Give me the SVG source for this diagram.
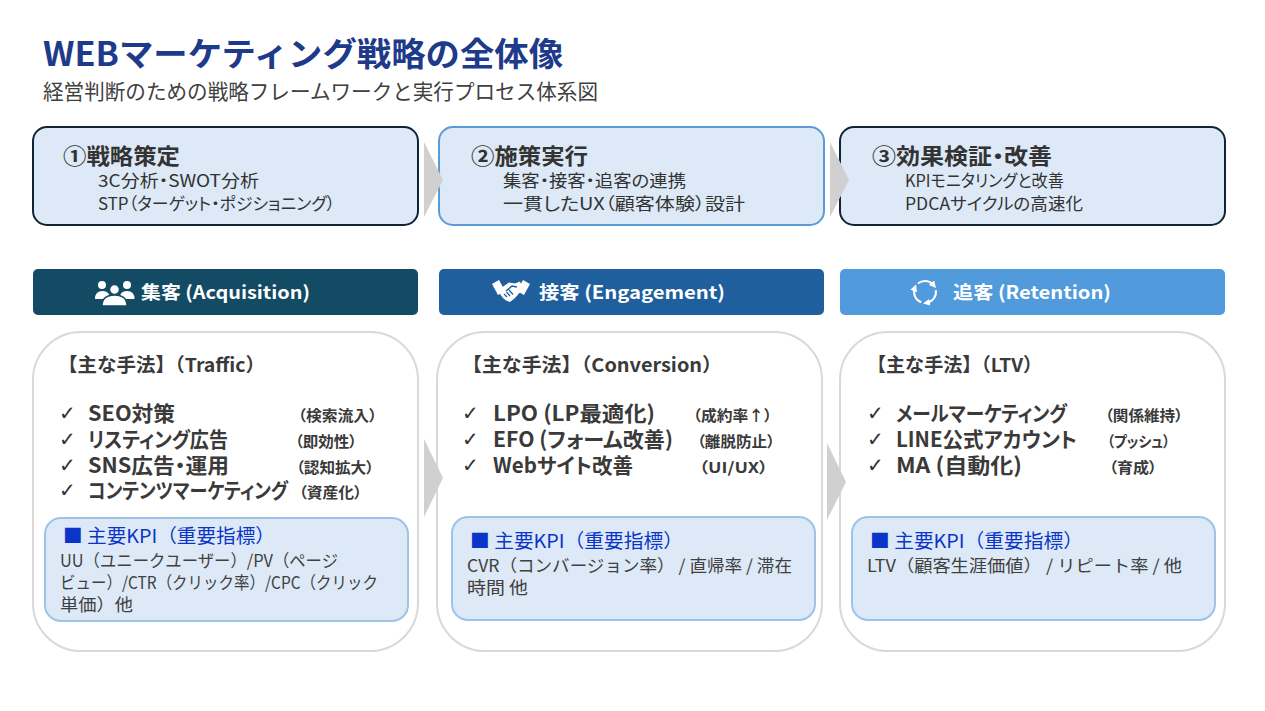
<svg xmlns="http://www.w3.org/2000/svg" width="1265" height="711" viewBox="0 0 1265 711">
<defs>
<style>
text{font-family:"Noto Sans CJK JP","Noto Sans",sans-serif;}
.fit{}
.p{font-feature-settings:"palt";}
.title{font-size:33px;font-weight:700;fill:#1e3a8a;}
.sub{font-size:21px;fill:#404040;}
.phase{fill:#dde9f6;stroke-width:2;}
.ph{font-size:22px;font-weight:700;fill:#333;}
.pl{font-size:17px;fill:#333;}
.bar-t{font-size:18px;font-weight:700;fill:#fff;}
.card{fill:#fff;stroke:#d9d9d9;stroke-width:2;}
.ch{font-size:19px;font-weight:700;fill:#3a3a3a;}
.ck{font-size:20px;fill:#333;font-family:"DejaVu Sans",sans-serif;}
.it{font-size:21px;font-weight:700;fill:#3a3a3a;}
.nt{font-size:15px;font-weight:700;fill:#3a3a3a;}
.kpi{fill:#dde9f6;stroke:#9dc3e6;stroke-width:2;}
.kh{font-size:19px;fill:#0b35c8;}
.kb{font-size:17px;fill:#404040;}
.arrow{fill:#d0d0d0;}
.ic{fill:#fff;}
.cyc{fill:none;stroke:#fff;stroke-width:2;}
</style>
<marker id="cyc-head" markerUnits="userSpaceOnUse" markerWidth="7" markerHeight="7" refX="3" refY="3.5" orient="auto">
<path d="M0,0 L7,3.5 L0,7 z" fill="#fff"/>
</marker>
</defs>
<rect width="1265" height="711" fill="#fff"/>

<g id="header">
<text class="title" x="43" y="66" textLength="520" lengthAdjust="spacingAndGlyphs">WEBマーケティング戦略の全体像</text>
<text class="sub" x="43" y="99" textLength="555" lengthAdjust="spacingAndGlyphs">経営判断のための戦略フレームワークと実行プロセス体系図</text>
</g>

<g id="phase1">
<rect class="phase" x="33" y="127" width="385" height="98" rx="14" stroke="#0f2537"/>
<text class="ph" x="63" y="164" textLength="117" lengthAdjust="spacingAndGlyphs">①戦略策定</text>
<text class="pl p" x="98" y="187" textLength="161" lengthAdjust="spacingAndGlyphs">3C分析・SWOT分析</text>
<text class="pl p" x="98" y="210" textLength="237" lengthAdjust="spacingAndGlyphs">STP（ターゲット・ポジショニング）</text>
</g>
<g id="phase2">
<rect class="phase" x="439" y="127" width="385" height="98" rx="14" stroke="#5b9bd5"/>
<text class="ph" x="471" y="164" textLength="117" lengthAdjust="spacingAndGlyphs">②施策実行</text>
<text class="pl p" x="503" y="187" textLength="183" lengthAdjust="spacingAndGlyphs">集客・接客・追客の連携</text>
<text class="pl p" x="503" y="210" textLength="242" lengthAdjust="spacingAndGlyphs">一貫したUX（顧客体験）設計</text>
</g>
<g id="phase3">
<rect class="phase" x="840" y="127" width="385" height="98" rx="14" stroke="#0f2537"/>
<text class="ph p" x="872" y="164" textLength="180" lengthAdjust="spacingAndGlyphs">③効果検証・改善</text>
<text class="pl p" x="905" y="187" textLength="159" lengthAdjust="spacingAndGlyphs">KPIモニタリングと改善</text>
<text class="pl p" x="905" y="210" textLength="178" lengthAdjust="spacingAndGlyphs">PDCAサイクルの高速化</text>
</g>

<g id="bar-acquisition">
<rect x="33" y="269" width="385" height="46" rx="5" fill="#134a64"/>
<circle class="ic" cx="102" cy="285" r="4"/>
<circle class="ic" cx="127" cy="285" r="4"/>
<path class="ic" d="M95 299 q0 -8 7.5 -8 q7.5 0 7.5 8 z"/>
<path class="ic" d="M119.5 299 q0 -8 7.5 -8 q7.5 0 7.5 8 z"/>
<circle class="ic" cx="114.5" cy="289.5" r="5" stroke="#134a64" stroke-width="1.5"/>
<path class="ic" d="M102 306 q0 -11 12.5 -11 q12.5 0 12.5 11 z" stroke="#134a64" stroke-width="1.5"/>
<text class="bar-t" x="141" y="299" textLength="169" lengthAdjust="spacingAndGlyphs">集客 (Acquisition)</text>
</g>
<g id="bar-engagement">
<rect x="439" y="269" width="385" height="46" rx="5" fill="#1f5f9e"/>
<polygon class="ic" points="492,284 499,280 505,291 498,295"/>
<polygon class="ic" points="523,280 530,284 524,295 517,291"/>
<path class="ic" d="M501 288 L509 282.5 L515 283.5 L520 281.5 L523 289 L515 298 L510 302 L506 300.5 L503 298 L500 294 Z"/>
<path d="M506 291 L512 286 L517 287" fill="none" stroke="#1f5f9e" stroke-width="1.5"/>
<path d="M504 294 L507 297 M506.5 292 L510 296 M509 290 L513 294.5" fill="none" stroke="#1f5f9e" stroke-width="1.2"/>
<text class="bar-t" x="539" y="299" textLength="186" lengthAdjust="spacingAndGlyphs">接客 (Engagement)</text>
</g>
<g id="bar-retention">
<rect x="840" y="269" width="385" height="46" rx="5" fill="#519bdc"/>
<path class="cyc" d="M917.9 283.6 A11 11 0 0 1 933.4 284.9" marker-end="url(#cyc-head)"/>
<path class="cyc" d="M935.8 290.1 A11 11 0 0 1 926.9 302.8" marker-end="url(#cyc-head)"/>
<path class="cyc" d="M921.2 302.3 A11 11 0 0 1 914.7 288.2" marker-end="url(#cyc-head)"/>
<text class="bar-t" x="953" y="299" textLength="158" lengthAdjust="spacingAndGlyphs">追客 (Retention)</text>
</g>

<g id="card-acquisition">
<rect class="card" x="33" y="332" width="385" height="319" rx="48"/>
<text class="ch" x="58" y="372" textLength="207" lengthAdjust="spacingAndGlyphs">【主な手法】（Traffic）</text>
<text class="ck" x="59" y="420">✓</text>
<text class="ck" x="59" y="446">✓</text>
<text class="ck" x="59" y="472">✓</text>
<text class="ck" x="59" y="497">✓</text>
<text class="it p" x="88" y="421" textLength="87" lengthAdjust="spacingAndGlyphs">SEO対策</text>
<text class="it p" x="88" y="447" textLength="140" lengthAdjust="spacingAndGlyphs">リスティング広告</text>
<text class="it p" x="88" y="473" textLength="141" lengthAdjust="spacingAndGlyphs">SNS広告・運用</text>
<text class="it p" x="88" y="498" textLength="200" lengthAdjust="spacingAndGlyphs">コンテンツマーケティング</text>
<text class="nt p" x="298" y="421" textLength="79" lengthAdjust="spacingAndGlyphs">（検索流入）</text>
<text class="nt p" x="295" y="447" textLength="62" lengthAdjust="spacingAndGlyphs">（即効性）</text>
<text class="nt p" x="296" y="473" textLength="78" lengthAdjust="spacingAndGlyphs">（認知拡大）</text>
<text class="nt p" x="299" y="498" textLength="63" lengthAdjust="spacingAndGlyphs">（資産化）</text>
<g id="kpi-acquisition">
<rect class="kpi" x="45" y="518" width="363" height="103" rx="16"/>
<text class="kh" x="63" y="543" textLength="212" lengthAdjust="spacingAndGlyphs">■ 主要KPI（重要指標）</text>
<text class="kb" x="60" y="567" textLength="278" lengthAdjust="spacingAndGlyphs">UU（ユニークユーザー）/PV（ページ</text>
<text class="kb" x="60" y="589" textLength="318" lengthAdjust="spacingAndGlyphs">ビュー）/CTR（クリック率）/CPC（クリック</text>
<text class="kb" x="60" y="611" textLength="73" lengthAdjust="spacingAndGlyphs">単価）他</text>
</g>
</g>

<g id="card-engagement">
<rect class="card" x="437" y="332" width="385" height="319" rx="48"/>
<text class="ch" x="462" y="372" textLength="260" lengthAdjust="spacingAndGlyphs">【主な手法】（Conversion）</text>
<text class="ck" x="462" y="420">✓</text>
<text class="ck" x="462" y="446">✓</text>
<text class="ck" x="462" y="472">✓</text>
<text class="it p" x="493" y="421" textLength="162" lengthAdjust="spacingAndGlyphs">LPO (LP最適化)</text>
<text class="it p" x="493" y="447" textLength="180" lengthAdjust="spacingAndGlyphs">EFO (フォーム改善)</text>
<text class="it p" x="493" y="473" textLength="140" lengthAdjust="spacingAndGlyphs">Webサイト改善</text>
<text class="nt p" x="693" y="421" textLength="79" lengthAdjust="spacingAndGlyphs">（成約率↑）</text>
<text class="nt p" x="697" y="447" textLength="78" lengthAdjust="spacingAndGlyphs">（離脱防止）</text>
<text class="nt p" x="699" y="473" textLength="69" lengthAdjust="spacingAndGlyphs">（UI/UX）</text>
<g id="kpi-engagement">
<rect class="kpi" x="452" y="517" width="363" height="103" rx="16"/>
<text class="kh" x="470" y="548" textLength="213" lengthAdjust="spacingAndGlyphs">■ 主要KPI（重要指標）</text>
<text class="kb" x="467" y="572" textLength="325" lengthAdjust="spacingAndGlyphs">CVR（コンバージョン率） / 直帰率 / 滞在</text>
<text class="kb" x="467" y="594" textLength="61" lengthAdjust="spacingAndGlyphs">時間 他</text>
</g>
</g>

<g id="card-retention">
<rect class="card" x="840" y="332" width="385" height="319" rx="48"/>
<text class="ch" x="867" y="372" textLength="175" lengthAdjust="spacingAndGlyphs">【主な手法】（LTV）</text>
<text class="ck" x="867" y="420">✓</text>
<text class="ck" x="867" y="446">✓</text>
<text class="ck" x="867" y="472">✓</text>
<text class="it p" x="896" y="421" textLength="171" lengthAdjust="spacingAndGlyphs">メールマーケティング</text>
<text class="it p" x="896" y="447" textLength="181" lengthAdjust="spacingAndGlyphs">LINE公式アカウント</text>
<text class="it p" x="896" y="473" textLength="126" lengthAdjust="spacingAndGlyphs">MA (自動化)</text>
<text class="nt p" x="1105" y="421" textLength="78" lengthAdjust="spacingAndGlyphs">（関係維持）</text>
<text class="nt p" x="1107" y="447" textLength="63" lengthAdjust="spacingAndGlyphs">（プッシュ）</text>
<text class="nt p" x="1109" y="473" textLength="48" lengthAdjust="spacingAndGlyphs">（育成）</text>
<g id="kpi-retention">
<rect class="kpi" x="852" y="517" width="363" height="103" rx="16"/>
<text class="kh" x="870" y="548" textLength="213" lengthAdjust="spacingAndGlyphs">■ 主要KPI（重要指標）</text>
<text class="kb" x="867" y="572" textLength="315" lengthAdjust="spacingAndGlyphs">LTV（顧客生涯価値） / リピート率 / 他</text>
</g>
</g>

<g id="connectors">
<polygon class="arrow" points="424,142 443,180 424,217"/>
<polygon class="arrow" points="830,142 849,180 830,217"/>
<polygon class="arrow" points="424,439 443,478 424,517"/>
<polygon class="arrow" points="827,443 846,482 827,520"/>
</g>
</svg>
